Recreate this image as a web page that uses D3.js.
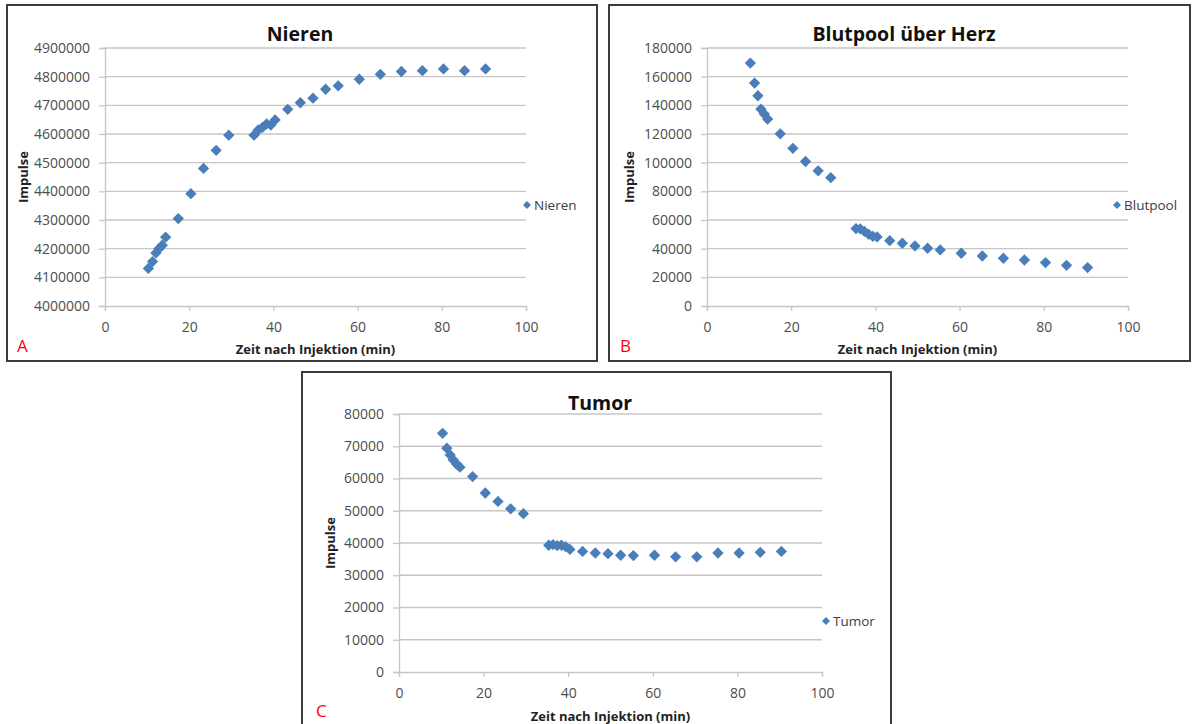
<!DOCTYPE html>
<html>
<head>
<meta charset="utf-8">
<script src="https://cdn.jsdelivr.net/npm/d3@7"></script>
<style>
  body { margin: 0; background: #fff; }
  svg { display: block; font-family: "Open Sans", sans-serif; }
</style>
</head>
<body>
<svg id="chart" width="1192" height="724"></svg>
<script>
// minutes after injection, shared by all three panels
const time = [10.3, 11.3, 12.1, 12.8, 13.6, 14.4, 17.4, 20.4, 23.4, 26.4, 29.4,
  35.4, 36.4, 37.4, 38.4, 39.4, 40.4, 43.4, 46.4, 49.4, 52.4, 55.4,
  60.4, 65.4, 70.4, 75.4, 80.4, 85.4, 90.4];

const nieren = [4131000, 4155000, 4185000, 4200000, 4212000, 4240000, 4305000, 4392000,
  4480000, 4543000, 4596000, 4596000, 4614000, 4623000, 4635000, 4631000, 4649000,
  4686000, 4709000, 4725000, 4756000, 4768000, 4791000, 4808000, 4818000, 4821000,
  4827000, 4821000, 4827000];

const blutpool = [169500, 155500, 146700, 137400, 134000, 130400, 120100, 110000,
  100800, 94300, 89500, 54000, 53800, 52000, 50000, 48600, 48200, 45600, 43800,
  41900, 40300, 39100, 36800, 34900, 33300, 32100, 30300, 28400, 26800];

const tumor = [74000, 69400, 67300, 65800, 64500, 63500, 60600, 55500, 52900, 50600,
  49100, 39300, 39500, 39200, 39300, 38900, 38000, 37400, 36900, 36700, 36200,
  36100, 36200, 35700, 35700, 36900, 36900, 37100, 37400];

const xTicks = [0, 20, 40, 60, 80, 100];
const yTicksA = d3.range(4000000, 4900001, 100000);
const yTicksB = d3.range(0, 180001, 20000);
const yTicksC = d3.range(0, 80001, 10000);

const blue = '#4a7ebb';
const gridColor = '#c6c6c6';
const svg = d3.select('#chart');

const panels = [
  { frame: [7, 5, 590, 356], plot: [105, 48, 421, 258], title: 'Nieren', titleX: 300, titleY: 41,
    values: nieren, yTicks: yTicksA, legend: 'Nieren', legendX: 527, legendY: 205,
    letter: 'A', letterX: 17, letterY: 352, yTitleX: 28, xTitleY: 354 },
  { frame: [609, 5, 581, 356], plot: [707, 48, 421, 258], title: 'Blutpool über Herz', titleX: 904, titleY: 41,
    values: blutpool, yTicks: yTicksB, legend: 'Blutpool', legendX: 1117, legendY: 205,
    letter: 'B', letterX: 620, letterY: 352, yTitleX: 634, xTitleY: 354 },
  { frame: [302, 372, 589, 360], plot: [399, 414, 423, 258], title: 'Tumor', titleX: 600, titleY: 410,
    values: tumor, yTicks: yTicksC, legend: 'Tumor', legendX: 826, legendY: 621,
    letter: 'C', letterX: 316, letterY: 717, yTitleX: 335, xTitleY: 721 }
];

panels.forEach(p => {
  const [fx, fy, fw, fh] = p.frame;
  const [px, py, pw, ph] = p.plot;
  const g = svg.append('g');

  g.append('rect')
    .attr('x', fx).attr('y', fy).attr('width', fw).attr('height', fh)
    .attr('fill', '#fff').attr('stroke', '#3c3c3c').attr('stroke-width', 2);

  const x = d3.scaleLinear().domain([0, 100]).range([px, px + pw]);
  const y = d3.scaleLinear().domain([p.yTicks[0], p.yTicks[p.yTicks.length - 1]]).range([py + ph, py]);

  // horizontal gridlines
  g.append('g').selectAll('line')
    .data(p.yTicks.slice(1))
    .join('line')
    .attr('x1', px).attr('x2', px + pw)
    .attr('y1', d => y(d)).attr('y2', d => y(d))
    .attr('stroke', gridColor).attr('stroke-width', 1.3);

  const yAxis = g.append('g')
    .attr('transform', `translate(${px},0)`)
    .call(d3.axisLeft(y).tickValues(p.yTicks).tickSize(6).tickPadding(9).tickFormat(d3.format('d')));
  const xAxis = g.append('g')
    .attr('transform', `translate(0,${py + ph})`)
    .call(d3.axisBottom(x).tickValues(xTicks).tickSize(5).tickPadding(8).tickFormat(d3.format('d')));

  [yAxis, xAxis].forEach(a => {
    a.select('.domain').attr('stroke', gridColor).attr('stroke-width', 1.3);
    a.selectAll('.tick line').attr('stroke', gridColor).attr('stroke-width', 1.3);
    a.selectAll('text')
      .attr('fill', '#4d4d4d')
      .style('font-size', '14px')
      .style('font-family', '"Open Sans", sans-serif');
  });
  xAxis.selectAll('text').attr('dy', '0.9em');

  // data points
  g.append('g').selectAll('path')
    .data(time.map((t, i) => [t, p.values[i]]))
    .join('path')
    .attr('d', d3.symbol(d3.symbolSquare, 64))
    .attr('transform', d => `translate(${x(d[0])},${y(d[1])}) rotate(45)`)
    .attr('fill', blue);

  // legend
  g.append('path')
    .attr('d', d3.symbol(d3.symbolSquare, 32))
    .attr('transform', `translate(${p.legendX},${p.legendY}) rotate(45)`)
    .attr('fill', blue);
  g.append('text')
    .attr('x', p.legendX + 7).attr('y', p.legendY + 5)
    .attr('fill', '#404040').style('font-size', '13.5px')
    .text(p.legend);

  g.append('text')
    .attr('x', p.titleX).attr('y', p.titleY)
    .attr('text-anchor', 'middle')
    .style('font-size', '19.5px').style('font-weight', 'bold')
    .attr('fill', '#111')
    .text(p.title);

  g.append('text')
    .attr('x', x(50)).attr('y', p.xTitleY)
    .attr('text-anchor', 'middle')
    .style('font-size', '13px').style('font-weight', 'bold')
    .attr('fill', '#222')
    .text('Zeit nach Injektion (min)');

  g.append('text')
    .attr('transform', `translate(${p.yTitleX},${py + ph / 2}) rotate(-90)`)
    .attr('text-anchor', 'middle')
    .style('font-size', '13px').style('font-weight', 'bold')
    .attr('fill', '#222')
    .text('Impulse');

  g.append('text')
    .attr('x', p.letterX).attr('y', p.letterY)
    .style('font-size', '17px')
    .attr('fill', '#ff0000')
    .text(p.letter);
});
</script>
</body>
</html>
